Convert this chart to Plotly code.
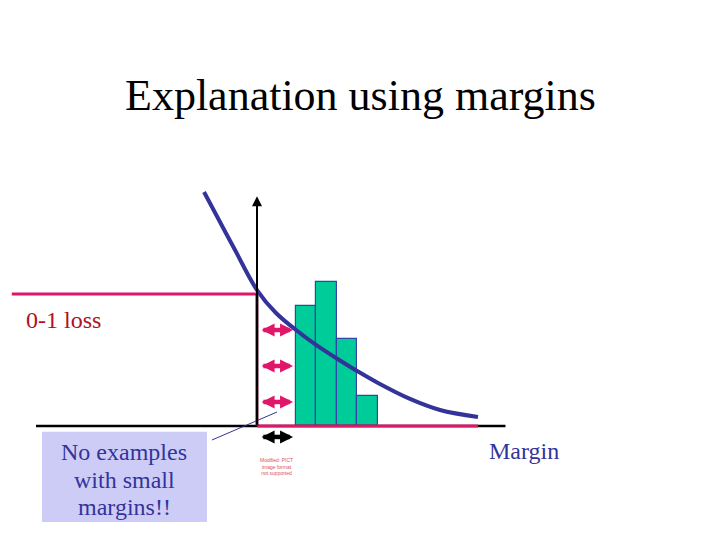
import plotly.graph_objects as go

# ---- data (margin units on x, loss units on y) ----
bar_left_edges = [0.47, 0.72, 0.97, 1.22]
bar_width = 0.25
bar_heights = [0.91, 1.09, 0.66, 0.23]

curve_x = [-0.646, -0.451, -0.268, 0.0, 0.232, 0.476, 0.720, 0.963, 1.220, 1.476, 1.866, 2.232, 2.695]
curve_y = [1.773, 1.545, 1.333, 1.030, 0.856, 0.727, 0.614, 0.515, 0.417, 0.326, 0.205, 0.121, 0.068]

loss01_x = [-2.99, 0.0, 0.0, 2.695]
loss01_y = [1.0, 1.0, 0.0, 0.0]

arrow_levels = [0.727, 0.4545, 0.182]
arrow_span = [0.037, 0.44]
black_arrow_level = -0.083

title_text = "Explanation using margins"
loss_label = "0-1 loss"
axis_label = "Margin"
box_lines = ["No examples", "with small", "margins!!"]
box_line_y = [-0.195, -0.409, -0.611]
pict_lines = ["Modified: PICT", "image format", "not supported"]

PINK = "#e0166a"
NAVY = "#333399"
SERIF = "Liberation Serif"

fig = go.Figure()

# histogram bars
fig.add_trace(go.Bar(
    x=[l + bar_width / 2 for l in bar_left_edges], y=bar_heights, width=bar_width,
    marker=dict(color="#00cc99", line=dict(color="#3344aa", width=1.2)),
    hoverinfo="skip", showlegend=False))

# black horizontal axis
fig.add_trace(go.Scatter(x=[-2.695, 3.03], y=[0, 0], mode="lines",
                         line=dict(color="black", width=2.5), showlegend=False, hoverinfo="skip"))

# 0-1 loss
fig.add_trace(go.Scatter(x=loss01_x[:2], y=loss01_y[:2], mode="lines",
                         line=dict(color=PINK, width=3), showlegend=False, hoverinfo="skip"))
fig.add_trace(go.Scatter(x=loss01_x[2:], y=loss01_y[2:], mode="lines",
                         line=dict(color=PINK, width=3), showlegend=False, hoverinfo="skip"))
fig.add_trace(go.Scatter(x=loss01_x[1:3], y=loss01_y[1:3], mode="lines",
                         line=dict(color="#5a0a2a", width=3), showlegend=False, hoverinfo="skip"))

# exponential-like curve
fig.add_trace(go.Scatter(x=curve_x, y=curve_y, mode="lines", line_shape="spline",
                         line=dict(color=NAVY, width=4), showlegend=False, hoverinfo="skip"))

# thin pointer line
fig.add_trace(go.Scatter(x=[-0.549, 0.244], y=[-0.106, 0.106], mode="lines",
                         line=dict(color=NAVY, width=1), showlegend=False, hoverinfo="skip"))

# thick shafts of the double arrows
for lv, col in [(l, PINK) for l in arrow_levels] + [(black_arrow_level, "black")]:
    fig.add_trace(go.Scatter(x=[arrow_span[0] + 0.04, arrow_span[1] - 0.04], y=[lv, lv], mode="lines",
                             line=dict(color=col, width=4.5), showlegend=False, hoverinfo="skip"))

annotations = []
# vertical axis with arrowhead
annotations.append(dict(x=0, y=1.74, ax=0, ay=0, xref="x", yref="y", axref="x", ayref="y",
                        text="", showarrow=True, arrowhead=2, arrowsize=1, arrowwidth=2,
                        arrowcolor="black"))
# double arrow heads
for lv, col in [(l, PINK) for l in arrow_levels] + [(black_arrow_level, "black")]:
    annotations.append(dict(x=arrow_span[1], y=lv, ax=arrow_span[0], ay=lv,
                            xref="x", yref="y", axref="x", ayref="y", text="", showarrow=True,
                            arrowhead=2, startarrowhead=2, arrowside="end+start",
                            arrowsize=1.3, startarrowsize=1.3, arrowwidth=2, arrowcolor=col))

annotations.append(dict(x=0.5, y=0.824, xref="paper", yref="paper", text=title_text,
                        xanchor="center", yanchor="middle",
                        showarrow=False, font=dict(family=SERIF, size=44, color="black")))
annotations.append(dict(x=-2.84, y=0.80, xref="x", yref="y", text=loss_label, xanchor="left",
                        showarrow=False, font=dict(family=SERIF, size=24, color="#b01020")))
annotations.append(dict(x=3.26, y=-0.19, xref="x", yref="y", text=axis_label, xanchor="center",
                        showarrow=False, font=dict(family=SERIF, size=24, color=NAVY)))
for txt, yy in zip(box_lines, box_line_y):
    annotations.append(dict(x=-1.616, y=yy, xref="x", yref="y", text=txt,
                            showarrow=False, align="center",
                            font=dict(family=SERIF, size=24, color=NAVY)))
annotations.append(dict(x=0.24, y=-0.31, xref="x", yref="y", text="<br>".join(pict_lines),
                        showarrow=False, align="center",
                        font=dict(family="Liberation Sans", size=5, color="#e05060")))

shapes = [dict(type="rect", xref="x", yref="y", x0=-2.622, x1=-0.610, y0=-0.727, y1=-0.043,
               fillcolor="#ccccf7", line=dict(width=0), layer="below")]

fig.update_layout(
    width=720, height=540, margin=dict(l=0, r=0, t=0, b=0),
    paper_bgcolor="white", plot_bgcolor="white",
    xaxis=dict(range=[-3.134, 5.646], visible=False, fixedrange=True),
    yaxis=dict(range=[-0.8636, 3.227], visible=False, fixedrange=True),
    bargap=0, annotations=annotations, shapes=shapes, showlegend=False,
)

fig.write_html("out.html", config={"displayModeBar": False},
               post_script="document.body.style.margin='0';document.body.style.overflow='hidden';")
